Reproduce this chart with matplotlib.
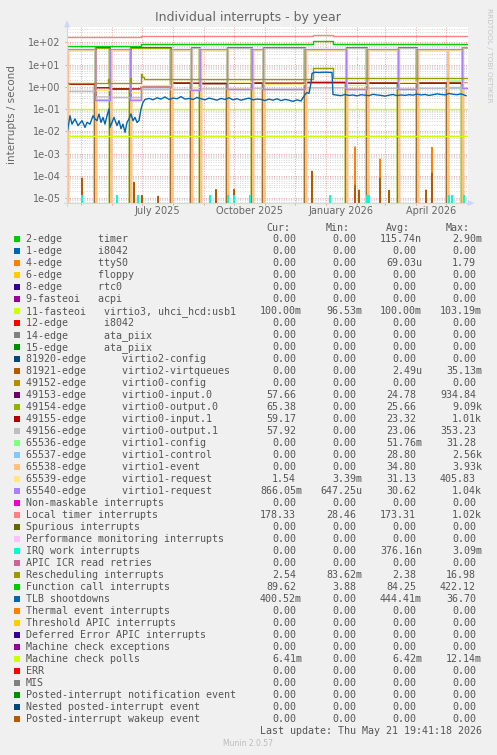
import numpy as np
import matplotlib
matplotlib.use("Agg")
import matplotlib.pyplot as plt
import matplotlib.dates as mdates
from matplotlib.patches import Rectangle, Polygon
from matplotlib.lines import Line2D
from matplotlib.ticker import FixedLocator, LogLocator, NullFormatter, FuncFormatter

W, H = 497, 755
FONT = "#666666"
TEXT = "#555555"
MONO = "DejaVu Sans Mono"

# ---------------- legend table ----------------
names = [
    "2-edge      timer", "1-edge      i8042", "4-edge      ttyS0", "6-edge      floppy",
    "8-edge      rtc0", "9-fasteoi   acpi", "11-fasteoi   virtio3, uhci_hcd:usb1",
    "12-edge      i8042", "14-edge      ata_piix", "15-edge      ata_piix",
    "81920-edge      virtio2-config", "81921-edge      virtio2-virtqueues",
    "49152-edge      virtio0-config", "49153-edge      virtio0-input.0",
    "49154-edge      virtio0-output.0", "49155-edge      virtio0-input.1",
    "49156-edge      virtio0-output.1", "65536-edge      virtio1-config",
    "65537-edge      virtio1-control", "65538-edge      virtio1-event",
    "65539-edge      virtio1-request", "65540-edge      virtio1-request",
    "Non-maskable interrupts", "Local timer interrupts", "Spurious interrupts",
    "Performance monitoring interrupts", "IRQ work interrupts", "APIC ICR read retries",
    "Rescheduling interrupts", "Function call interrupts", "TLB shootdowns",
    "Thermal event interrupts", "Threshold APIC interrupts", "Deferred Error APIC interrupts",
    "Machine check exceptions", "Machine check polls", "ERR", "MIS",
    "Posted-interrupt notification event", "Nested posted-interrupt event",
    "Posted-interrupt wakeup event",
]
colors = [
    "#00CC00", "#0066B3", "#FF8000", "#FFCC00", "#330099", "#990099", "#CCFF00",
    "#FF0000", "#808080", "#008F00", "#00487D", "#B35A00", "#B38F00", "#6B006B",
    "#8FB300", "#B30000", "#BEBEBE", "#80FF80", "#80C9FF", "#FFC080", "#FFE680",
    "#AA80FF", "#EE00CC", "#FF8080", "#666600", "#FFBFFF", "#00FFCC", "#CC6699",
    "#999900", "#00CC00", "#0066B3", "#FF8000", "#FFCC00", "#330099", "#990099",
    "#CCFF00", "#FF0000", "#808080", "#008F00", "#00487D", "#B35A00",
]
Z = "0.00"
cur = [Z, Z, Z, Z, Z, Z, "100.00m", Z, Z, Z, Z, Z, Z, "57.66", "65.38", "59.17", "57.92",
       Z, Z, Z, "1.54", "866.05m", Z, "178.33", Z, Z, Z, Z, "2.54", "89.62", "400.52m",
       Z, Z, Z, Z, "6.41m", Z, Z, Z, Z, Z]
mins = [Z, Z, Z, Z, Z, Z, "96.53m", Z, Z, Z, Z, Z, Z, Z, Z, Z, Z,
        Z, Z, Z, "3.39m", "647.25u", Z, "28.46", Z, Z, Z, Z, "83.62m", "3.88", Z,
        Z, Z, Z, Z, Z, Z, Z, Z, Z, Z]
avgs = ["115.74n", Z, "69.03u", Z, Z, Z, "100.00m", Z, Z, Z, Z, "2.49u", Z, "24.78", "25.66",
        "23.32", "23.06", "51.76m", "28.80", "34.80", "31.13", "30.62", Z, "173.31", Z, Z,
        "376.16n", Z, "2.38", "84.25", "444.41m", Z, Z, Z, Z, "6.42m", Z, Z, Z, Z, Z]
maxs = ["2.90m", Z, "1.79", Z, Z, Z, "103.19m", Z, Z, Z, Z, "35.13m", Z, "934.84", "9.09k",
        "1.01k", "353.23", "31.28", "2.56k", "3.93k", "405.83", "1.04k", Z, "1.02k", Z, Z,
        "3.09m", Z, "16.98", "422.12", "36.70", Z, Z, Z, Z, "12.14m", Z, Z, Z, Z, Z]

# ---------------- time series ----------------
t_first = "2025-04-17"
t_last = "2026-05-22"

# virtio devices switch over / restart at these dates
phase_start = ["2025-04-17", "2025-05-15", "2025-05-30", "2025-06-19", "2025-06-30",
               "2025-07-30", "2025-08-19", "2025-08-28", "2025-09-24", "2025-10-19",
               "2025-10-30", "2025-12-11", "2026-01-21", "2026-02-11", "2026-03-14",
               "2026-04-02", "2026-05-02", "2026-05-17"]
phase_reboot = [True, True, True, True, False, True, True, True, True, True,
                True, True, True, True, True, True, True, True]
v49153 = [1.3, 57, 0.8, 57, 57, 1.45, 57, 1.4, 57, 1.45, 57, 1.55, 57, 1.45, 57, 1.45, 1.45, 57]
v49154 = [1.3, 54, 0.8, 54, 54, 1.45, 54, 1.4, 54, 1.45, 54, 1.55, 54, 1.45, 54, 1.45, 1.45, 54]
v49155 = [1.3, 0.9, 0.8, 0.8, 1.0, 1.45, 1.45, 1.4, 1.45, 1.45, 1.45, 1.55, 1.45, 1.45, 1.45, 1.45, 1.45, 1.45]
v49156 = [0.62, 0.35, 0.33, 0.33, 0.75, 0.75, 53, 0.8, 53, 0.85, 53, 0.9, 53, 0.85, 53, 0.85, 0.85, 55]
v65536 = [0, 0, 0, 0, 0, 0, 0, 0, 0, 0, 0, 0, 0, 0, 0, 0, 1.8, 0]
v65537 = [46, 0.26, 46, 0.26, 0.95, 46, 0.72, 46, 0.78, 46, 0.76, 46, 0.8, 46, 0.78, 46, 0.95, 0.87]
v65538 = [45, 0.26, 45, 0.26, 0.95, 45, 0.72, 45, 0.78, 45, 0.76, 45, 0.8, 45, 0.78, 45, 45, 0.87]
v65539 = [47, 0.75, 47, 0.6, 1.25, 47, 1.0, 47, 1.6, 47, 1.3, 47, 1.25, 47, 1.65, 47, 47, 1.55]
v65540 = [51, 0.26, 51, 0.26, 0.95, 51, 0.72, 51, 0.78, 51, 0.76, 51, 0.8, 51, 0.78, 51, 51, 0.87]

ltimer_dates = ["2025-04-17", "2025-06-30", "2025-12-19", "2026-01-08"]
ltimer_vals = [176, 190, 222, 186]
fcall_dates = ["2025-04-17", "2025-06-30", "2025-12-19", "2026-01-08"]
fcall_vals = [68, 84, 112, 86]
resched_dates = ["2025-04-17", "2025-05-28", "2025-05-29", "2025-06-19", "2025-06-20",
                 "2025-06-30", "2025-07-01", "2025-07-03", "2025-12-19", "2026-01-08"]
resched_vals = [1.45, 2.3, 1.45, 2.4, 1.45, 3.8, 2.7, 2.35, 7.0, 2.4]

irq11_val = 0.1
mcpoll_val = 0.0064

# TLB shootdowns, days after t_first
tlb_days = [0, 3, 5, 8, 11, 15, 18, 20, 23, 26, 28, 30, 32, 34, 36, 38, 40, 42, 43, 45, 47,
            50, 52, 54, 56, 58, 60, 62, 64, 66, 68, 70, 72, 74, 76, 78,
            82, 86, 90, 94, 98, 102, 106, 110, 114, 118, 122, 126, 130, 134, 138, 142, 146,
            150, 154, 158, 162, 166, 170, 174, 178, 182, 186, 190, 194, 198, 202, 206, 210,
            214, 218, 222, 226, 230, 234,
            238, 240, 242, 244, 245, 248, 252, 256, 260, 265, 266,
            270, 274, 278, 282, 286, 290, 294, 298, 302, 306, 310, 314, 318, 322, 326, 330,
            334, 338, 342, 346, 350, 354, 358, 362, 366, 370, 374, 378, 382, 386, 390, 394, 399]
tlb_vals = [0.0076, 0.05, 0.021, 0.036, 0.018, 0.03, 0.015, 0.025, 0.021, 0.05, 0.036, 0.03,
            0.06, 0.025, 0.042, 0.021, 0.05, 0.1, 0.015, 0.025, 0.042,
            0.018, 0.03, 0.013, 0.021, 0.009, 0.025, 0.036, 0.06, 0.03, 0.042, 0.025, 0.03,
            0.1, 0.2, 0.27,
            0.3, 0.26, 0.32, 0.28, 0.35, 0.27, 0.31, 0.29, 0.36, 0.28, 0.3, 0.27, 0.33, 0.29,
            0.26, 0.31, 0.28, 0.25, 0.3, 0.27, 0.32, 0.26, 0.29, 0.25, 0.28, 0.31, 0.26, 0.28,
            0.27, 0.24, 0.28, 0.25, 0.29, 0.24, 0.27, 0.25, 0.22, 0.26, 0.23,
            0.45, 0.55, 0.5, 1.5, 4.0, 4.5, 4.4, 4.5, 4.5, 4.4, 0.45,
            0.42, 0.4, 0.45, 0.41, 0.43, 0.39, 0.44, 0.42, 0.4, 0.46, 0.43, 0.41, 0.38, 0.42,
            0.45, 0.4, 0.43, 0.41, 0.44, 0.42, 0.47, 0.43, 0.45, 0.41, 0.44, 0.48, 0.45, 0.43,
            0.5, 0.46, 0.44, 0.48, 0.4]

# short spikes near the bottom
virtq_dates = ["2025-05-02", "2025-06-23", "2025-07-01", "2025-07-17", "2025-09-13",
               "2025-10-01", "2025-12-18", "2026-01-30", "2026-02-03", "2026-02-24",
               "2026-03-05", "2026-04-11", "2026-04-17"]
virtq_vals = [7.9e-5, 5e-5, 1.3e-5, 1.2e-5, 2.4e-5, 2.4e-5, 1.6e-4, 3.6e-5, 2.3e-5, 8e-5,
              2.2e-5, 2.3e-5, 1.3e-4]
ttys_dates = ["2026-01-30", "2026-02-24", "2026-04-17"]
ttys_vals = [2.0e-3, 5.6e-4, 1.9e-3]
irqwork_dates = ["2025-05-02", "2025-06-06", "2025-06-27", "2025-09-07", "2025-09-25",
                 "2025-10-01", "2025-10-17", "2026-01-05", "2026-02-11", "2026-02-13",
                 "2026-05-04", "2026-05-07", "2026-05-19"]
irqwork_vals = [1.3e-5] * 13

month_lines = ["2025-05-01", "2025-06-01", "2025-07-01", "2025-08-01", "2025-09-01",
               "2025-10-01", "2025-11-01", "2025-12-01", "2026-01-01", "2026-02-01",
               "2026-03-01", "2026-04-01", "2026-05-01"]
xlabels = ["July 2025", "October 2025", "January 2026", "April 2026"]
xlabel_dates = ["2025-07-16", "2025-10-16", "2026-01-16", "2026-04-16"]


def num(s):
    return mdates.date2num(np.datetime64(s))


def phase_line(vals, drop=True, shift=0.0):
    # drop=True: the device restarts at each boundary, so the rate falls to zero for a day
    starts = [num(s) + shift for s in phase_start]
    end = num(t_last)
    xs, ys = [], []
    for i, v in enumerate(vals):
        s = starts[i]
        e = starts[i + 1] if i + 1 < len(starts) else end
        if phase_reboot[i] and drop:
            xs += [s + 0.5, s + 1.0]
            ys += [0.0, v]
        else:
            xs.append(max(s, num(t_first)))
            ys.append(v)
        xs.append(e)
        ys.append(v)
    return xs, ys


def spike_line(dates, vals):
    xs, ys = [], []
    for d, v in zip(dates, vals):
        t = num(d)
        xs += [t - 1, t, t + 1]
        ys += [0.0, v, 0.0]
    return xs, ys


def step_line(dates, vals):
    xs = [num(d) for d in dates] + [num(t_last)]
    ys = list(vals) + [vals[-1]]
    return xs, ys


def px(x, y):
    return x / W, 1 - y / H


fig = plt.figure(figsize=(W / 100, H / 100), dpi=100, facecolor="#F0F0F0")
ax = fig.add_axes([67 / W, 1 - 203 / H, (468 - 67) / W, (203 - 27) / H])
ax.set_facecolor("white")
ax.set_yscale("log", nonpositive="clip")

LW = 1.0
base = num(t_first)
x0, x1 = num(t_first), num(t_last)

# drawing order follows the legend
ax.plot(*spike_line(ttys_dates, ttys_vals), color=colors[2], lw=LW)
ax.plot([x0, x1], [irq11_val, irq11_val], color=colors[6], lw=LW)
ax.plot(*spike_line(virtq_dates, virtq_vals), color=colors[11], lw=LW)
virtio = [(v49153, 13, True, 0.0), (v49154, 14, True, -0.8), (v49155, 15, True, 0.2),
          (v49156, 16, True, 0.5), (v65536, 17, True, 0.0), (v65537, 18, False, 0.0),
          (v65538, 19, True, 0.7), (v65539, 20, False, 0.0), (v65540, 21, False, 0.0)]
for vals, ci, drop, shift in virtio:
    ax.plot(*phase_line(vals, drop, shift), color=colors[ci], lw=LW)
ax.plot(*step_line(ltimer_dates, ltimer_vals), color=colors[23], lw=LW, drawstyle="steps-post")
ax.plot(*spike_line(irqwork_dates, irqwork_vals), color=colors[26], lw=LW)
ax.plot(*step_line(resched_dates, resched_vals), color=colors[28], lw=LW, drawstyle="steps-post")
ax.plot(*step_line(fcall_dates, fcall_vals), color=colors[29], lw=LW, drawstyle="steps-post")
ax.plot([base + d for d in tlb_days], tlb_vals, color=colors[30], lw=LW)
ax.plot([x0, x1], [mcpoll_val, mcpoll_val], color=colors[35], lw=LW)

# axes and grid
ax.set_xlim(num("2025-04-17"), num("2026-05-23"))
ax.set_ylim(6e-6, 485)
ax.yaxis.set_major_locator(FixedLocator([10.0 ** k for k in range(-5, 3)]))
ax.yaxis.set_major_formatter(FuncFormatter(lambda v, p: f"{v:.0e}"))
ax.yaxis.set_minor_locator(LogLocator(base=10, subs=np.arange(2, 10)))
ax.yaxis.set_minor_formatter(NullFormatter())
ax.set_xticks([num(m) for m in month_lines])
ax.set_xticklabels([])
ax.grid(which="major", axis="both", color="#E9A0A0", linestyle=(0, (1, 1.5)), lw=0.7)
ax.grid(which="minor", axis="y", color="#D4D4D4", linestyle=(0, (1, 1.5)), lw=0.7)
ax.set_axisbelow(True)
ax.tick_params(which="both", length=1.5, width=0.7, color="#E9A0A0")
ax.tick_params(axis="y", which="major", labelsize=7, labelcolor=FONT, pad=3)
ax.tick_params(axis="y", which="minor", length=0)
for sp in ax.spines.values():
    sp.set_visible(False)

for lab, d in zip(xlabels, xlabel_dates):
    ax.text(num(d), -0.048, lab, transform=ax.get_xaxis_transform(), ha="center",
            va="center", fontsize=7, color=FONT)

# axis lines with arrows
axis_c = "#CFD6F8"
fig.add_artist(Line2D([64 / W, 470 / W], [1 - 203 / H, 1 - 203 / H], color=axis_c, lw=0.8))
fig.add_artist(Line2D([67 / W, 67 / W], [1 - 206 / H, 1 - 24 / H], color=axis_c, lw=0.8))
fig.add_artist(Polygon([px(468, 200.5), px(474, 203), px(468, 205.5)], closed=True,
                       transform=fig.transFigure, facecolor=axis_c, edgecolor=axis_c, lw=0.5))
fig.add_artist(Polygon([px(64.5, 27), px(67, 21), px(69.5, 27)], closed=True,
                       transform=fig.transFigure, facecolor=axis_c, edgecolor=axis_c, lw=0.5))

# titles
fig.text(*px(248, 18), "Individual interrupts - by year", ha="center", va="center",
         fontsize=9, color=FONT)
fig.text(*px(12, 115), "interrupts / second", ha="center", va="center", rotation=90,
         fontsize=7.5, color=FONT)
fig.text(*px(489, 55), "RRDTOOL / TOBI OETIKER", ha="center", va="center", rotation=270,
         fontsize=5.3, color="#C4C4C4")

# legend
row0, dy = 239.3, 12.0
col_edges = [302, 362, 422, 482]
CW = 6.0
for edge, head in zip(col_edges, ["Cur:", "Min:", "Avg:", "Max:"]):
    fig.text(*px(edge - 2 * CW, 228), head, ha="right", va="center", family=MONO,
             fontsize=7.2, color=TEXT)
for i, (nm, c) in enumerate(zip(names, colors)):
    y = row0 + dy * i
    fig.add_artist(Rectangle(px(14, y + 3), 6 / W, 6 / H, transform=fig.transFigure,
                             facecolor=c, edgecolor="none"))
    fig.text(*px(26, y), nm, ha="left", va="center", family=MONO, fontsize=7.2, color=TEXT)
    for edge, s in zip(col_edges, (cur[i], mins[i], avgs[i], maxs[i])):
        xr = edge if s[-1].isalpha() else edge - CW
        fig.text(*px(xr, y), s, ha="right", va="center", family=MONO, fontsize=7.2,
                 color=TEXT)

fig.text(*px(482, 731), "Last update: Thu May 21 19:41:18 2026", ha="right", va="center",
         family=MONO, fontsize=7.2, color=TEXT)
fig.text(*px(248, 744), "Munin 2.0.57", ha="center", va="center", fontsize=5.5,
         color="#BBBBBB")

fig.savefig("out.png", dpi=100, facecolor=fig.get_facecolor())
